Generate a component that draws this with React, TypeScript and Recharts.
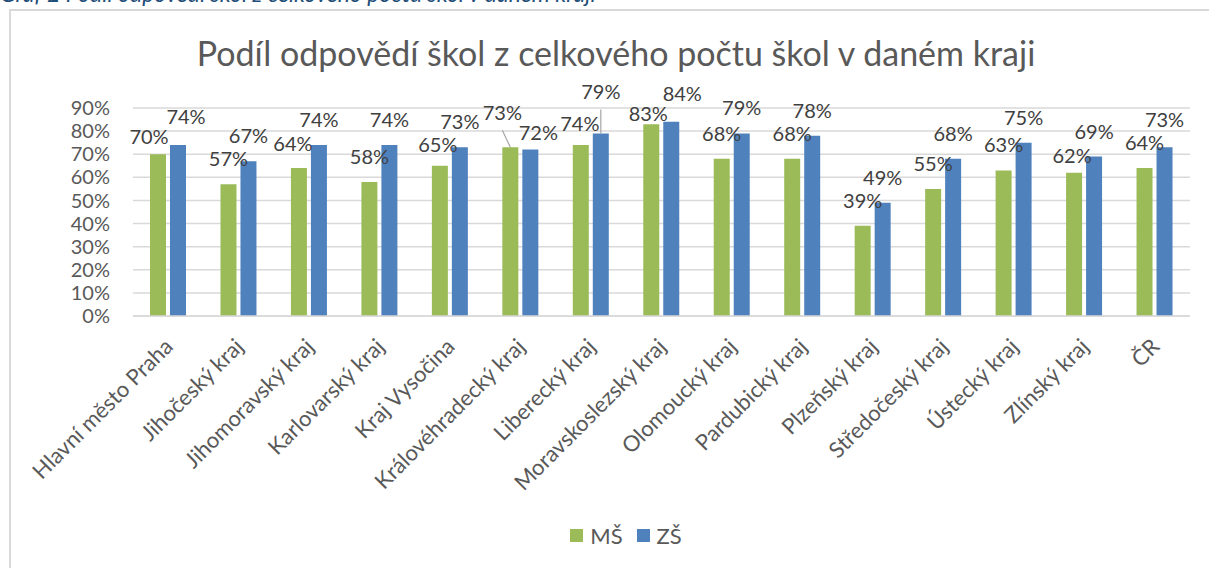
import { BarChart, Bar, XAxis, YAxis, CartesianGrid, LabelList } from "recharts";

const regions = [
  "Hlavní město Praha",
  "Jihočeský kraj",
  "Jihomoravský kraj",
  "Karlovarský kraj",
  "Kraj Vysočina",
  "Královéhradecký kraj",
  "Liberecký kraj",
  "Moravskoslezský kraj",
  "Olomoucký kraj",
  "Pardubický kraj",
  "Plzeňský kraj",
  "Středočeský kraj",
  "Ústecký kraj",
  "Zlínský kraj",
  "ČR",
];
const ms = [70, 57, 64, 58, 65, 73, 74, 83, 68, 68, 39, 55, 63, 62, 64];
const zs = [74, 67, 74, 74, 73, 72, 79, 84, 79, 78, 49, 68, 75, 69, 73];
const yTicks = [0, 10, 20, 30, 40, 50, 60, 70, 80, 90];

const data = regions.map((r, i) => ({ region: r, ms: ms[i], zs: zs[i] }));

const FONT = "Lato, 'Open Sans', sans-serif";
const TEXT = "#595959";
const GREEN = "#9BBB59";
const BLUE = "#4F81BD";

// hand-moved data labels in the original: [dx, lift above bar top, leader line?]
const msNudge: Record<string, [number, number, boolean?]> = {
  "Hlavní město Praha": [-9, 17],
  "Jihomoravský kraj": [-6, 24],
  "Kraj Vysočina": [-2, 21],
  "Královéhradecký kraj": [-8, 34, true],
  "Liberecký kraj": [-1, 21],
  "Moravskoslezský kraj": [-3, 10],
  "Zlínský kraj": [-2, 17],
};
const zsNudge: Record<string, [number, number, boolean?]> = {
  "Hlavní město Praha": [8, 28],
  "Královéhradecký kraj": [8, 17],
  "Liberecký kraj": [0, 41, true],
  "Moravskoslezský kraj": [11, 28],
  "ČR": [0, 27],
};

function makeLabel(nudge: Record<string, [number, number, boolean?]>) {
  return (props: any) => {
    const { x, y, width, value, index } = props;
    const cx = x + width / 2;
    const [dx, lift, leader] = nudge[regions[index]] || [0, 25, false];
    const tx = cx + dx;
    const ty = y - lift;
    return (
      <g>
        {leader && (
          <line
            x1={dx ? tx : cx}
            y1={ty + 17}
            x2={cx}
            y2={y}
            stroke="#a6a6a6"
            strokeWidth={1.2}
          />
        )}
        <text x={tx} y={ty + 7} textAnchor="middle" fontFamily={FONT} fontSize={20} fill="#404040">
          {value}%
        </text>
      </g>
    );
  };
}

const CategoryTick = (props: any) => {
  const { x, y, payload } = props;
  return (
    <text
      transform={`translate(${x + 6},${y + 24}) rotate(-45)`}
      textAnchor="end"
      fontFamily={FONT}
      fontSize={22}
      fill={TEXT}
    >
      {payload.value}
    </text>
  );
};

export default function App() {
  return (
    <div
      style={{
        position: "absolute",
        left: 0,
        top: 0,
        width: 1209,
        height: 568,
        overflow: "hidden",
        background: "#fff",
      }}
    >
      <div
        style={{
          position: "absolute",
          left: 0,
          top: -21,
          fontFamily: FONT,
          fontStyle: "italic",
          fontSize: 23,
          lineHeight: "28px",
          color: "#1F4E79",
          whiteSpace: "nowrap",
        }}
      >
        Graf 2 Podíl odpovědí škol z celkového počtu škol v daném kraji
      </div>
      <div
        style={{
          position: "absolute",
          left: 9,
          top: 9,
          width: 1230,
          height: 600,
          borderLeft: "2px solid #d9d9d9",
          borderTop: "2px solid #d9d9d9",
        }}
      />
      <div
        style={{
          position: "absolute",
          left: 10,
          width: 1212,
          top: 32,
          textAlign: "center",
          fontFamily: FONT,
          fontSize: 34,
          color: TEXT,
          whiteSpace: "nowrap",
        }}
      >
        Podíl odpovědí škol z celkového počtu škol v daném kraji
      </div>
      <div style={{ position: "absolute", left: 0, top: 0 }}>
        <BarChart
          width={1209}
          height={568}
          data={data}
          margin={{ top: 108, right: 19, left: 73, bottom: 242 }}
          barSize={16}
          barGap={4}
        >
          <CartesianGrid vertical={false} stroke="#d9d9d9" strokeWidth={1.5} />
          <XAxis
            dataKey="region"
            interval={0}
            tickLine={false}
            axisLine={{ stroke: "#d9d9d9", strokeWidth: 1.5 }}
            tick={<CategoryTick />}
            height={10}
          />
          <YAxis
            width={60}
            domain={[0, 90]}
            ticks={yTicks}
            interval={0}
            axisLine={false}
            tickLine={false}
            tickMargin={17}
            tickFormatter={(v: number) => `${v}%`}
            tick={{ fontFamily: FONT, fontSize: 20, fill: TEXT }}
          />
          <Bar dataKey="ms" name="MŠ" fill={GREEN} isAnimationActive={false}>
            <LabelList dataKey="ms" content={makeLabel(msNudge)} />
          </Bar>
          <Bar dataKey="zs" name="ZŠ" fill={BLUE} isAnimationActive={false}>
            <LabelList dataKey="zs" content={makeLabel(zsNudge)} />
          </Bar>
        </BarChart>
      </div>
      <div
        style={{
          position: "absolute",
          left: 20,
          width: 1212,
          top: 522,
          display: "flex",
          justifyContent: "center",
          alignItems: "center",
          fontFamily: FONT,
          fontSize: 22,
          color: TEXT,
        }}
      >
        {[
          { name: "MŠ", color: GREEN },
          { name: "ZŠ", color: BLUE },
        ].map((s) => (
          <span key={s.name} style={{ display: "flex", alignItems: "center", margin: "0 7px" }}>
            <span style={{ width: 13, height: 13, background: s.color, marginRight: 7 }} />
            {s.name}
          </span>
        ))}
      </div>
    </div>
  );
}
